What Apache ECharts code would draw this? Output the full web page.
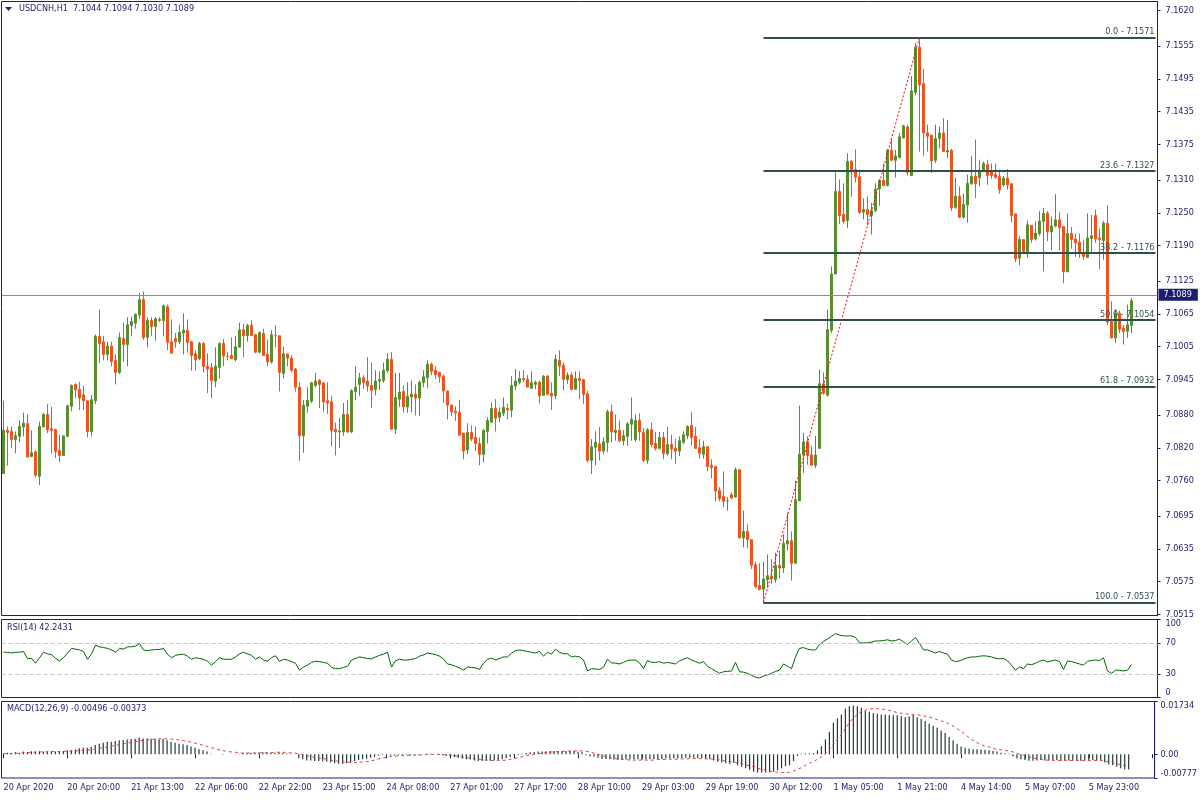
<!DOCTYPE html>
<html><head><meta charset="utf-8">
<script src="https://cdn.jsdelivr.net/npm/echarts@6/dist/echarts.min.js"></script>
<style>html,body{margin:0;padding:0;background:#fff}#c{width:1200px;height:800px}</style>
</head><body><div id="c"></div>
<script>
const symbolName = 'USDCNH,H1';
const opens = [
7.0773,7.0852,7.0850,7.0835,7.0841,7.0858,7.0864,7.0804,7.0813,7.0768,
7.0858,7.0881,7.0855,7.0853,7.0815,7.0806,7.0841,7.0896,7.0936,7.0927,
7.0917,7.0906,7.0850,7.0906,7.1024,7.1014,7.0991,7.1006,7.0980,7.0958,
7.1020,7.1009,7.1044,7.1048,7.1063,7.1091,7.1022,7.1053,7.1042,7.1055,
7.1053,7.1078,7.1014,7.1020,7.1014,7.1030,7.1035,7.1014,7.0992,7.0983,
7.1011,7.0969,7.0967,7.0942,7.0967,7.1011,7.0987,7.0989,7.0981,7.1004,
7.1036,7.1025,7.1044,7.1027,7.0995,7.1029,7.0991,7.0977,7.1025,7.1025,
7.0956,7.0991,7.0984,7.0964,7.0931,7.0842,7.0896,7.0905,7.0934,7.0943,
7.0939,7.0906,7.0904,7.0854,7.0849,7.0849,7.0881,7.0849,7.0923,7.0936,
7.0948,7.0942,7.0934,7.0927,7.0942,7.0943,7.0961,7.0982,7.0854,7.0909,
7.0923,7.0895,7.0913,7.0918,7.0911,7.0939,7.0948,7.0973,7.0962,7.0958,
7.0951,7.0924,7.0898,7.0887,7.0885,7.0847,7.0816,7.0848,7.0839,7.0828,
7.0808,7.0850,7.0867,7.0892,7.0876,7.0883,7.0892,7.0889,7.0933,7.0940,
7.0947,7.0945,7.0929,7.0936,7.0940,7.0916,7.0951,7.0920,7.0915,7.0980,
7.0971,7.0945,7.0953,7.0927,7.0947,7.0945,7.0919,7.0797,7.0821,7.0827,
7.0814,7.0830,7.0886,7.0848,7.0852,7.0833,7.0841,7.0863,7.0835,7.0870,
7.0848,7.0797,7.0853,7.0828,7.0819,7.0839,7.0809,7.0826,7.0819,7.0814,
7.0830,7.0842,7.0861,7.0841,7.0820,7.0808,7.0822,7.0788,7.0786,7.0742,
7.0731,7.0723,7.0734,7.0730,7.0780,7.0655,7.0667,7.0652,7.0606,7.0568,
7.0561,7.0579,7.0585,7.0579,7.0605,7.0600,7.0644,7.0650,7.0609,7.0723,
7.0807,7.0831,7.0807,7.0788,7.0819,7.0937,7.0916,7.1035,7.1138,7.1289,
7.1247,7.1236,7.1344,7.1329,7.1316,7.1251,7.1256,7.1245,7.1254,7.1294,
7.1309,7.1300,7.1364,7.1346,7.1351,7.1387,7.1407,7.1318,7.1470,7.1553,
7.1486,7.1396,7.1392,7.1346,7.1386,7.1396,7.1361,7.1364,7.1260,7.1280,
7.1242,7.1264,7.1303,7.1317,7.1314,7.1326,7.1338,7.1326,7.1320,7.1316,
7.1301,7.1313,7.1303,7.1248,7.1167,7.1201,7.1179,7.1227,7.1202,7.1212,
7.1234,7.1249,7.1215,7.1226,7.1237,7.1225,7.1142,7.1212,7.1202,7.1196,
7.1176,7.1168,7.1203,7.1245,7.1204,7.1199,7.1231,7.1051,7.1021,7.1066,
7.1039,7.1033,7.1044];
const highs = [
7.0906,7.0859,7.0859,7.0850,7.0870,7.0884,7.0881,7.0852,7.0815,7.0868,
7.0884,7.0900,7.0895,7.0855,7.0844,7.0842,7.0899,7.0936,7.0938,7.0941,
7.0933,7.0906,7.0917,7.1027,7.1073,7.1025,7.1014,7.1014,7.0991,7.1031,
7.1049,7.1059,7.1060,7.1066,7.1103,7.1106,7.1059,7.1059,7.1059,7.1059,
7.1082,7.1082,7.1055,7.1030,7.1045,7.1066,7.1055,7.1016,7.0998,7.1014,
7.1014,7.0993,7.0975,7.1004,7.1013,7.1019,7.0995,7.1022,7.1024,7.1049,
7.1047,7.1047,7.1053,7.1028,7.1033,7.1038,7.1018,7.1035,7.1044,7.1025,
7.1005,7.0993,7.0989,7.0966,7.0940,7.0907,7.0931,7.0940,7.0957,7.0946,
7.0940,7.0940,7.0915,7.0866,7.0875,7.0902,7.0907,7.0927,7.0969,7.0957,
7.0953,7.0986,7.0976,7.0962,7.0960,7.0976,7.0993,7.0995,7.0957,7.0957,
7.0934,7.0940,7.0943,7.0936,7.0943,7.0962,7.0980,7.0976,7.0969,7.0958,
7.0954,7.0924,7.0900,7.0896,7.0907,7.0847,7.0865,7.0861,7.0859,7.0839,
7.0854,7.0876,7.0903,7.0909,7.0894,7.0912,7.0901,7.0951,7.0964,7.0960,
7.0962,7.0953,7.0960,7.0943,7.0943,7.0953,7.0953,7.0940,7.0991,7.0998,
7.0976,7.0958,7.0958,7.0960,7.0960,7.0945,7.0924,7.0836,7.0850,7.0858,
7.0839,7.0890,7.0899,7.0881,7.0870,7.0852,7.0867,7.0912,7.0881,7.0883,
7.0856,7.0856,7.0866,7.0849,7.0849,7.0849,7.0858,7.0844,7.0836,7.0841,
7.0850,7.0861,7.0885,7.0858,7.0836,7.0833,7.0822,7.0799,7.0786,7.0748,
7.0777,7.0730,7.0739,7.0784,7.0780,7.0705,7.0680,7.0652,7.0612,7.0609,
7.0612,7.0625,7.0616,7.0628,7.0632,7.0662,7.0701,7.0667,7.0760,7.0897,
7.0847,7.0841,7.0823,7.0842,7.0963,7.0958,7.1073,7.1152,7.1324,7.1311,
7.1304,7.1359,7.1347,7.1366,7.1329,7.1276,7.1280,7.1268,7.1304,7.1312,
7.1340,7.1367,7.1386,7.1365,7.1396,7.1411,7.1411,7.1500,7.1561,7.1571,
7.1513,7.1411,7.1392,7.1411,7.1408,7.1423,7.1420,7.1367,7.1314,7.1298,
7.1285,7.1320,7.1354,7.1384,7.1347,7.1344,7.1347,7.1340,7.1340,7.1329,
7.1317,7.1330,7.1303,7.1248,7.1208,7.1201,7.1236,7.1227,7.1234,7.1253,
7.1259,7.1253,7.1243,7.1284,7.1251,7.1225,7.1249,7.1224,7.1212,7.1212,
7.1201,7.1249,7.1246,7.1256,7.1221,7.1235,7.1264,7.1088,7.1074,7.1071,
7.1045,7.1082,7.1094];
const lows = [
7.0773,7.0787,7.0819,7.0810,7.0830,7.0841,7.0803,7.0803,7.0766,7.0752,
7.0858,7.0847,7.0810,7.0801,7.0794,7.0806,7.0839,7.0887,7.0911,7.0889,
7.0889,7.0839,7.0841,7.0900,7.0975,7.0980,7.0980,7.0969,7.0936,7.0955,
7.0977,7.0969,7.1024,7.1038,7.1056,7.1017,7.1004,7.1025,7.1016,7.1050,
7.1024,7.0999,7.0993,7.1003,7.1010,7.0991,7.0994,7.0961,7.0961,7.0980,
7.0958,7.0920,7.0911,7.0931,7.0947,7.0969,7.0980,7.0983,7.0978,7.1004,
7.0986,7.1014,7.1025,7.0993,7.0993,7.0989,7.0969,7.0974,7.1004,7.0923,
7.0947,7.0969,7.0959,7.0923,7.0796,7.0811,7.0884,7.0902,7.0931,7.0893,
7.0886,7.0882,7.0823,7.0806,7.0820,7.0842,7.0847,7.0847,7.0907,7.0915,
7.0928,7.0923,7.0893,7.0916,7.0926,7.0939,7.0957,7.0854,7.0845,7.0895,
7.0884,7.0884,7.0885,7.0879,7.0879,7.0931,7.0929,7.0953,7.0946,7.0939,
7.0902,7.0872,7.0878,7.0869,7.0843,7.0799,7.0808,7.0832,7.0814,7.0788,
7.0793,7.0828,7.0865,7.0850,7.0867,7.0878,7.0872,7.0876,7.0925,7.0936,
7.0940,7.0931,7.0928,7.0927,7.0901,7.0915,7.0916,7.0889,7.0909,7.0951,
7.0925,7.0937,7.0925,7.0927,7.0909,7.0900,7.0794,7.0772,7.0788,7.0797,
7.0808,7.0812,7.0830,7.0833,7.0830,7.0824,7.0824,7.0833,7.0831,7.0833,
7.0794,7.0791,7.0821,7.0815,7.0817,7.0799,7.0806,7.0799,7.0791,7.0805,
7.0827,7.0836,7.0824,7.0819,7.0800,7.0800,7.0777,7.0764,7.0722,7.0722,
7.0711,7.0705,7.0727,7.0728,7.0655,7.0638,7.0636,7.0598,7.0563,7.0559,
7.0537,7.0564,7.0571,7.0573,7.0581,7.0591,7.0632,7.0577,7.0608,7.0723,
7.0774,7.0789,7.0788,7.0783,7.0819,7.0917,7.0914,7.1030,7.1137,7.1229,
7.1230,7.1222,7.1279,7.1305,7.1248,7.1238,7.1227,7.1210,7.1251,7.1263,
7.1298,7.1298,7.1345,7.1314,7.1350,7.1386,7.1318,7.1317,7.1465,7.1362,
7.1354,7.1362,7.1323,7.1341,7.1368,7.1362,7.1350,7.1253,7.1257,7.1240,
7.1239,7.1232,7.1301,7.1277,7.1298,7.1326,7.1301,7.1312,7.1312,7.1285,
7.1298,7.1292,7.1232,7.1160,7.1154,7.1175,7.1168,7.1195,7.1199,7.1208,
7.1143,7.1198,7.1181,7.1223,7.1181,7.1121,7.1142,7.1184,7.1169,7.1167,
7.1164,7.1168,7.1178,7.1195,7.1147,7.1164,7.1045,7.1021,7.1012,7.1030,
7.1009,7.1021,7.1030];
const closes = [
7.0852,7.0848,7.0835,7.0842,7.0859,7.0865,7.0803,7.0811,7.0770,7.0859,
7.0881,7.0853,7.0852,7.0813,7.0806,7.0842,7.0897,7.0934,7.0926,7.0911,
7.0906,7.0850,7.0908,7.1024,7.1011,7.0991,7.1006,7.0978,7.0958,7.1022,
7.1009,7.1045,7.1051,7.1064,7.1091,7.1022,7.1053,7.1042,7.1056,7.1053,
7.1080,7.1013,7.0993,7.1014,7.1031,7.1035,7.1013,7.0989,7.0981,7.1011,
7.0969,7.0964,7.0943,7.0969,7.1011,7.0988,7.0987,7.0983,7.1005,7.1036,
7.1025,7.1044,7.1025,7.0995,7.1031,7.0989,7.0977,7.1027,7.1025,7.0958,
7.0992,7.0984,7.0962,7.0931,7.0842,7.0898,7.0907,7.0939,7.0942,7.0936,
7.0904,7.0902,7.0852,7.0849,7.0851,7.0881,7.0849,7.0925,7.0931,7.0948,
7.0940,7.0933,7.0925,7.0942,7.0945,7.0962,7.0982,7.0854,7.0912,7.0922,
7.0895,7.0914,7.0918,7.0911,7.0940,7.0950,7.0973,7.0960,7.0954,7.0950,
7.0924,7.0898,7.0886,7.0884,7.0843,7.0814,7.0848,7.0836,7.0828,7.0808,
7.0852,7.0870,7.0892,7.0874,7.0885,7.0894,7.0889,7.0934,7.0942,7.0947,
7.0945,7.0931,7.0939,7.0940,7.0915,7.0951,7.0918,7.0915,7.0982,7.0970,
7.0945,7.0953,7.0927,7.0947,7.0943,7.0918,7.0797,7.0822,7.0830,7.0814,
7.0831,7.0886,7.0849,7.0852,7.0833,7.0842,7.0864,7.0872,7.0870,7.0849,
7.0797,7.0853,7.0826,7.0819,7.0839,7.0809,7.0826,7.0818,7.0814,7.0833,
7.0844,7.0859,7.0839,7.0819,7.0810,7.0822,7.0786,7.0784,7.0741,7.0727,
7.0722,7.0723,7.0728,7.0780,7.0655,7.0667,7.0652,7.0605,7.0566,7.0561,
7.0580,7.0586,7.0581,7.0605,7.0600,7.0645,7.0650,7.0609,7.0725,7.0808,
7.0831,7.0806,7.0788,7.0807,7.0937,7.0920,7.1036,7.1138,7.1289,7.1245,
7.1234,7.1344,7.1329,7.1315,7.1251,7.1256,7.1247,7.1254,7.1293,7.1309,
7.1300,7.1364,7.1346,7.1354,7.1389,7.1409,7.1324,7.1473,7.1553,7.1484,
7.1396,7.1390,7.1345,7.1386,7.1396,7.1362,7.1364,7.1259,7.1280,7.1242,
7.1265,7.1304,7.1317,7.1303,7.1328,7.1340,7.1318,7.1318,7.1315,7.1292,
7.1313,7.1301,7.1245,7.1166,7.1201,7.1179,7.1228,7.1201,7.1213,7.1235,
7.1249,7.1215,7.1226,7.1237,7.1223,7.1142,7.1212,7.1201,7.1195,7.1175,
7.1170,7.1204,7.1208,7.1202,7.1201,7.1231,7.1050,7.1021,7.1066,7.1037,
7.1033,7.1045,7.1089];
const rsi = [
58,58,57,58,58,59,50,50,44,51,
58,56,55,50,47,51,57,63,62,61,
59,49,56,67,65,64,63,61,58,63,
62,65,65,66,69,61,60,61,61.5,61.5,
63,55.5,51,54,55,55.5,53,49,51,50,
49,46.5,41.5,46,51,49,49,49,52,56,
58,56,54,49,52,48,46.5,51,53.5,46,
49,48,46,44,35,39,41.5,45,46.5,46,
45,44,38.5,37,37,38.5,40,48,50,52,
51,50,49.5,52,54,55.5,58,39,47,49,
48,48,49,50,53,54.5,57,56,55,53,
49.5,43,42,40,38,35,39,38.5,38,36,
44,49,50.5,48,50,52,52,57,60,61,
60,59,58,57,59,53,58,55.5,62,58,
56,56,52,53,52,48,34,37,36.5,36,
39,49,44.5,44,43,45,47.5,48,48,44.5,
37,47.5,45,45,46,44,45,44,43,47,
49,51,48,46,44,46,40,37,34,31,
33,33.5,34,45,33,32.5,31,28.5,26,25,
27.5,29,31,33.5,35,43,40,37,52,63,
64,62,61,61,68,72,75,78.5,82,80,
79,79,79,77,70,70,70,71,72.5,72.5,
73,74,72.5,73,75,71,68,72.5,77,69,
61,61,59,57,59,57,55.5,48,46,47,
49,51,52,52,53,53.5,53,52,50.5,49.5,
50,47,41.5,35,39,37,43,42,44,46.5,
48,45.5,47,48,46,36,47,46,44.5,43,
41.5,46.5,47.5,48,47.5,51,34,31,35,35,
34,35,42.2431];
const macdMain = [
.0003,.0005,.0004,.0007,.0005,.0009,.0008,.0010,.0009,.0010,
.0009,.0010,.0010,.0009,.0010,.0011,.0013,.0013,.0016,.0020,
.0022,.0022,.0024,.0031,.0035,.0038,.0041,.0041,.0044,.0046,
.0047,.0049,.0050,.0051,.0055,.0052,.0052,.0051,.0050,.0049,
.0050,.0046,.0041,.0038,.0035,.0033,.0031,.0026,.0022,.0017,
.0013,.0009,.0002,0,0,-.0001,0,0,.0001,.0002,
.0004,.0005,.0005,.0004,.0005,.0007,.0005,.0005,.0005,.0007,
.0004,.0003,.0002,0,-.0013,-.0016,-.0020,-.0020,-.0022,-.0022,
-.0023,-.0024,-.0027,-.0029,-.0031,-.0031,-.0029,-.0027,-.0022,-.0019,
-.0016,-.0014,-.0011,-.0008,-.0004,-.0002,0,-.0004,-.0004,-.0003,
-.0003,-.0002,-.0003,-.0002,-.0002,0,.0002,.0002,0,-.0002,
-.0003,-.0005,-.0007,-.0009,-.0011,-.0014,-.0016,-.0017,-.0020,-.0022,
-.0022,-.0021,-.0021,-.0020,-.0019,-.0016,-.0013,-.0009,-.0005,-.0002,
.0002,.0004,.0007,.0008,.0009,.0009,.0010,.0011,.0011,.0011,
.0011,.0011,.0011,.0011,.0009,.0007,-.0003,-.0007,-.0007,-.0011,
-.0015,-.0015,-.0016,-.0017,-.0019,-.0019,-.0017,-.0017,-.0016,-.0016,
-.0019,-.0016,-.0016,-.0015,-.0015,-.0015,-.0014,-.0014,-.0014,-.0013,
-.0012,-.0011,-.0011,-.0011,-.0012,-.0012,-.0014,-.0016,-.0020,-.0024,
-.0027,-.0029,-.0031,-.0028,-.0036,-.0041,-.0046,-.0051,-.0057,-.0060,
-.0060,-.0060,-.0059,-.0057,-.0052,-.0046,-.0039,-.0036,-.0022,-.0005,
.0002,.0003,.0003,.0004,.0013,.0027,.0049,.0074,.0104,.0118,
.0131,.0150,.0158,.0160,.0158,.0153,.0142,.0140,.0136,.0133,
.0131,.0131,.0129,.0128,.0128,.0125,.0122,.0125,.0129,.0122,
.0116,.0109,.0100,.0094,.0087,.0078,.0070,.0057,.0046,.0035,
.0026,.0022,.0019,.0017,.0017,.0016,.0015,.0013,.0011,.0009,
.0005,.0003,.0002,-.0007,-.0013,-.0016,-.0019,-.0021,-.0021,-.0020,
-.0019,-.0020,-.0020,-.0019,-.0019,-.0022,-.0021,-.0020,-.0020,-.0021,
-.0021,-.0020,-.0020,-.0019,-.0020,-.0019,-.0027,-.0033,-.0036,-.0041,
-.0046,-.0049,-.00496];
const macdSignal = [
.0002,.0002,.0003,.0003,.0004,.0005,.0005,.0007,.0007,.0008,
.0008,.0008,.0009,.0009,.0009,.0010,.0010,.0011,.0011,.0012,
.0013,.0014,.0015,.0017,.0020,.0022,.0024,.0027,.0029,.0032,
.0034,.0037,.0039,.0041,.0044,.0046,.0047,.0049,.0050,.0051,
.0051,.0051,.0050,.0049,.0047,.0045,.0043,.0040,.0037,.0034,
.0029,.0026,.0022,.0019,.0015,.0012,.0010,.0008,.0007,.0005,
.0004,.0004,.0004,.0005,.0005,.0005,.0005,.0005,.0007,.0007,
.0007,.0005,.0005,.0004,.0002,-.0001,-.0004,-.0007,-.0010,-.0012,
-.0014,-.0016,-.0019,-.0021,-.0023,-.0025,-.0026,-.0027,-.0027,-.0026,
-.0025,-.0024,-.0022,-.0019,-.0015,-.0012,-.0010,-.0008,-.0007,-.0005,
-.0004,-.0004,-.0003,-.0003,-.0002,-.0002,-.0001,0,0,0,
-.0001,-.0002,-.0003,-.0004,-.0007,-.0009,-.0011,-.0013,-.0015,-.0016,
-.0017,-.0019,-.0020,-.0020,-.0020,-.0020,-.0019,-.0016,-.0014,-.0011,
-.0008,-.0004,-.0002,0,.0002,.0004,.0005,.0007,.0008,.0009,
.0010,.0010,.0011,.0011,.0012,.0011,.0010,.0008,.0004,0,
-.0004,-.0008,-.0011,-.0013,-.0015,-.0016,-.0017,-.0019,-.0019,-.0019,
-.0019,-.0019,-.0019,-.0019,-.0017,-.0017,-.0017,-.0016,-.0016,-.0016,
-.0015,-.0015,-.0014,-.0014,-.0014,-.0014,-.0015,-.0015,-.0016,-.0017,
-.0020,-.0022,-.0024,-.0025,-.0028,-.0031,-.0034,-.0038,-.0041,-.0046,
-.0049,-.0052,-.0055,-.0057,-.0059,-.0060,-.0060,-.0059,-.0055,-.0049,
-.0044,-.0036,-.0029,-.0024,-.0016,-.0009,.0002,.0016,.0033,.0049,
.0065,.0085,.0104,.0120,.0131,.0140,.0145,.0148,.0150,.0150,
.0149,.0147,.0144,.0141,.0137,.0135,.0133,.0131,.0130,.0129,
.0128,.0125,.0122,.0119,.0114,.0110,.0106,.0100,.0093,.0084,
.0076,.0065,.0055,.0046,.0038,.0033,.0027,.0024,.0020,.0016,
.0015,.0013,.0011,.0008,.0003,0,-.0004,-.0009,-.0012,-.0015,
-.0017,-.0019,-.0019,-.0020,-.0020,-.0020,-.0020,-.0020,-.0020,-.0020,
-.0020,-.0020,-.0020,-.0020,-.0020,-.0020,-.0022,-.0024,-.0027,-.0031,
-.0034,-.0037,-.00373];
const xTickLabels = ['20 Apr 2020','20 Apr 20:00','21 Apr 13:00','22 Apr 06:00','22 Apr 22:00','23 Apr 15:00','24 Apr 08:00','27 Apr 01:00','27 Apr 17:00','28 Apr 10:00','29 Apr 03:00','29 Apr 19:00','30 Apr 12:00','1 May 05:00','1 May 21:00','4 May 14:00','5 May 07:00','5 May 23:00'];
const priceTicks = [7.1620,7.1555,7.1495,7.1435,7.1375,7.1310,7.1250,7.1190,7.1125,7.1065,7.1005,7.0945,7.0880,7.0820,7.0760,7.0695,7.0635,7.0575,7.0515];
const rsiTicks = [0,30,70,100];
const rsiLevels = [70,30];
const macdTicks = [-0.00777,0,0.01734];
const fibPercents = ['0.0','23.6','38.2','50.0','61.8','100.0'];
const fibPrices = [7.1571,7.1327,7.1176,7.1054,7.0932,7.0537];
const fibLowIndex = 190;
const fibHighIndex = 229;

const NAVY = '#1c1c70';
const TXT = '#22226e';
const FONT = '"DejaVu Sans Condensed","DejaVu Sans",sans-serif';
const BULL = '#578f2f';
const BEAR = '#f3501e';
const FIB = '#2f4f4f';
const barSlots = 289;
const cats = Array.from({length: barSlots}, (_, i) => String(i));
const last = opens.length - 1;
const candles = opens.map((o, i) => [o, closes[i], lows[i], highs[i]]);

const fibLines = fibPrices.map((p, k) => [
  {coord: [String(fibLowIndex), p], lineStyle: {color: FIB, width: 2, type: 'solid'},
   label: {show: true, position: 'insideEndTop', formatter: fibPercents[k] + ' - ' + p.toFixed(4),
           color: FIB, fontSize: 9, fontFamily: FONT, distance: 1}},
  {coord: [String(barSlots - 1), p]}
]);
const trendLine = [
  {coord: [String(fibLowIndex), lows[fibLowIndex]], lineStyle: {color: '#ff0000', width: 1, type: [2, 2]}},
  {coord: [String(fibHighIndex), highs[fibHighIndex]]}
];
const priceLine = {yAxis: closes[last], lineStyle: {color: '#868d98', width: 1, type: 'solid'},
  label: {show: true, position: 'end', formatter: closes[last].toFixed(4), backgroundColor: NAVY,
          color: '#ffffff', padding: [2, 6, 1, 5], fontSize: 9, fontFamily: FONT, distance: 1}};

const titleMain = symbolName + '  ' + [opens[last], highs[last], lows[last], closes[last]].map(v => v.toFixed(4)).join(' ');
const titleRsi = 'RSI(14) ' + rsi[last].toFixed(4);
const titleMacd = 'MACD(12,26,9) ' + macdMain[last].toFixed(5) + ' ' + macdSignal[last].toFixed(5);

const hiddenX = (gi) => ({type: 'category', gridIndex: gi, data: cats, boundaryGap: true,
  axisLine: {show: false}, axisTick: {show: false}, axisLabel: {show: false}, splitLine: {show: false}});
const gridBase = {left: 1.5, width: 1156, show: true, borderColor: NAVY, borderWidth: 1, backgroundColor: '#fff'};

const option = {
  animation: false,
  backgroundColor: '#ffffff',
  textStyle: {fontFamily: FONT},
  grid: [
    Object.assign({top: 1.5, height: 614}, gridBase),
    Object.assign({top: 619.5, height: 78}, gridBase),
    Object.assign({top: 701.5, height: 76.5}, gridBase)
  ],
  xAxis: [
    hiddenX(0), hiddenX(1),
    {type: 'category', gridIndex: 2, data: cats, boundaryGap: true,
     axisLine: {show: false},
     axisTick: {show: true, interval: 15, alignWithLabel: true, length: 4, lineStyle: {color: NAVY}},
     axisLabel: {interval: 15, align: 'left', margin: 5, color: TXT, fontSize: 9, fontFamily: FONT,
       formatter: (v, idx) => (idx % 16 === 0 && xTickLabels[idx / 16]) ? xTickLabels[idx / 16] : ''},
     splitLine: {show: false}}
  ],
  yAxis: [
    {type: 'value', gridIndex: 0, position: 'right', min: 7.05132, max: 7.16365, splitLine: {show: false},
     axisLine: {show: true, lineStyle: {color: NAVY}},
     axisTick: {show: true, customValues: priceTicks, length: 3, lineStyle: {color: NAVY}},
     axisLabel: {customValues: priceTicks, formatter: v => v.toFixed(4), color: TXT, fontSize: 9, fontFamily: FONT, margin: 8}},
    {type: 'value', gridIndex: 1, position: 'right', min: 0, max: 100, splitLine: {show: false},
     axisLine: {show: true, lineStyle: {color: NAVY}},
     axisTick: {show: true, customValues: rsiTicks, length: 3, lineStyle: {color: NAVY}},
     axisLabel: {customValues: rsiTicks, color: TXT, fontSize: 9, fontFamily: FONT, margin: 8,
       verticalAlignMaxLabel: 'top', verticalAlignMinLabel: 'bottom'}},
    {type: 'value', gridIndex: 2, position: 'right', min: -0.00777, max: 0.01734, splitLine: {show: false},
     axisLine: {show: true, lineStyle: {color: NAVY}},
     axisTick: {show: true, customValues: macdTicks, length: 3, lineStyle: {color: NAVY}},
     axisLabel: {customValues: macdTicks, color: TXT, fontSize: 9, fontFamily: FONT, margin: 6,
       verticalAlignMaxLabel: 'top', verticalAlignMinLabel: 'bottom',
       formatter: v => Math.abs(v) < 1e-9 ? '0.00' : v.toFixed(5)}}
  ],
  series: [
    {type: 'candlestick', xAxisIndex: 0, yAxisIndex: 0, data: candles, barWidth: 2,
     itemStyle: {color: BULL, color0: BEAR, borderColor: BULL, borderColor0: BEAR, borderWidth: 1},
     markLine: {silent: true, symbol: ['none', 'none'], animation: false, label: {show: false},
       data: [priceLine].concat(fibLines, [trendLine])}},
    {type: 'line', xAxisIndex: 1, yAxisIndex: 1, data: rsi, showSymbol: false, symbol: 'none',
     lineStyle: {color: '#006400', width: 1},
     markLine: {silent: true, symbol: ['none', 'none'], animation: false, label: {show: false},
       lineStyle: {color: '#c4c4c4', type: [4, 3], width: 1},
       data: rsiLevels.map(v => ({yAxis: v}))}},
    {type: 'bar', xAxisIndex: 2, yAxisIndex: 2, data: macdMain, barWidth: 1.2,
     itemStyle: {color: '#1f3a3a'}},
    {type: 'line', xAxisIndex: 2, yAxisIndex: 2, data: macdSignal, showSymbol: false, symbol: 'none',
     lineStyle: {color: '#e0403a', width: 1, type: [3, 3]}}
  ],
  graphic: [
    {type: 'polygon', shape: {points: [[5, 7], [12, 7], [8.5, 11]]}, style: {fill: TXT}},
    {type: 'text', left: 19, top: 4, style: {text: titleMain, fill: TXT, font: '9px ' + FONT}},
    {type: 'text', left: 7, top: 623, style: {text: titleRsi, fill: TXT, font: '9px ' + FONT}},
    {type: 'text', left: 7, top: 704, style: {text: titleMacd, fill: TXT, font: '9px ' + FONT}}
  ]
};
const chart = echarts.init(document.getElementById('c'), null, {renderer: 'canvas'});
chart.setOption(option);
</script></body></html>
